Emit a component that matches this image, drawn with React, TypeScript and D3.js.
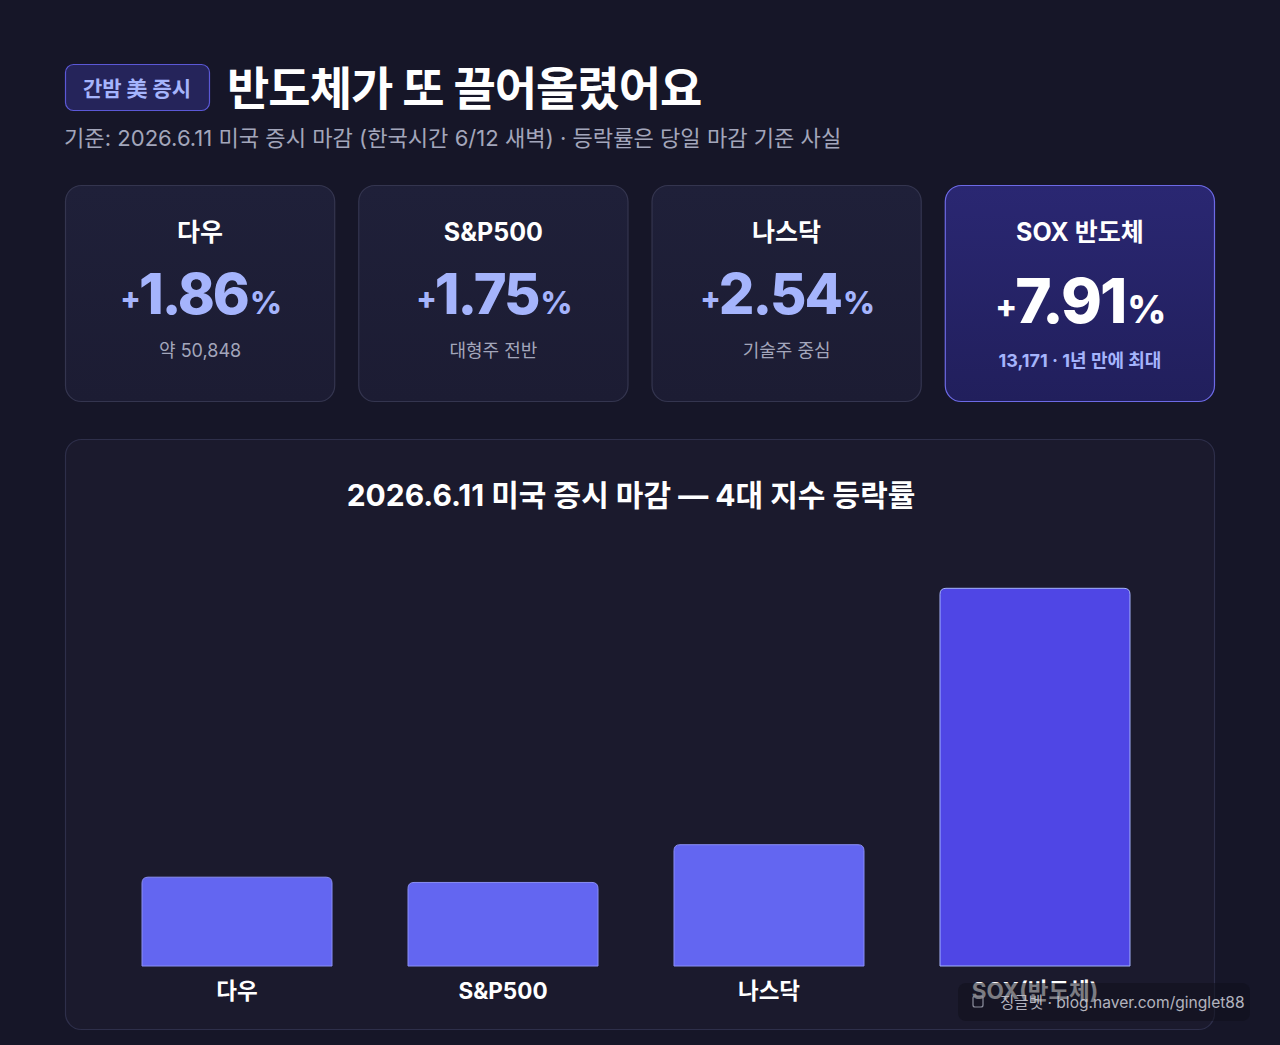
import React from "react";
import * as d3 from "d3";

const categories = ["다우", "S&P500", "나스닥", "SOX(반도체)"];
const changes = [1.86, 1.75, 2.54, 7.91];
const cardTitles = ["다우", "S&P500", "나스닥", "SOX 반도체"];
const cardValues = ["1.86", "1.75", "2.54", "7.91"];
const cardSubs = ["약 50,848", "대형주 전반", "기술주 중심", "13,171 · 1년 만에 최대"];
const yTicks = [0, 8];

const FONT = "Inter, 'Noto Sans CJK KR', 'Noto Sans', sans-serif";
const W = 1280;
const H = 1045;

export default function App() {
  const x = d3
    .scaleBand<string>()
    .domain(categories)
    .range([104, 1168])
    .paddingInner(0.2857)
    .paddingOuter(0.1429);
  const y = d3.scaleLinear().domain([yTicks[0], yTicks[1]]).range([966, 584]);
  const r = 6;

  const barPath = (c: string, v: number) => {
    const x0 = x(c)!;
    const w = x.bandwidth();
    const y0 = y(0);
    const y1 = y(v);
    const p = d3.path();
    p.moveTo(x0, y0);
    p.lineTo(x0, y1 + r);
    p.quadraticCurveTo(x0, y1, x0 + r, y1);
    p.lineTo(x0 + w - r, y1);
    p.quadraticCurveTo(x0 + w, y1, x0 + w, y1 + r);
    p.lineTo(x0 + w, y0);
    p.closePath();
    return p.toString();
  };

  const cardX = d3.scaleBand<number>().domain([0, 1, 2, 3]).range([65, 1215]).paddingInner(0.0786);

  return (
    <svg
      width={W}
      height={H}
      style={{ position: "absolute", left: 0, top: 0, display: "block" }}
      fontFamily={FONT}
    >
      <defs>
        <linearGradient id="soxCard" x1="0" y1="0" x2="0" y2="1">
          <stop offset="0%" stopColor="#2a2772" />
          <stop offset="100%" stopColor="#211f5c" />
        </linearGradient>
        <linearGradient id="card" x1="0" y1="0" x2="0" y2="1">
          <stop offset="0%" stopColor="#1f2039" />
          <stop offset="100%" stopColor="#1c1c33" />
        </linearGradient>
      </defs>
      <rect x={0} y={0} width={W} height={H} fill="#161628" />

      {/* header */}
      <rect x={65.5} y={64.5} width={144} height={46} rx={8} fill="#25245a" stroke="#5b58d6" strokeWidth={1.2} />
      <text x={137} y={96} textAnchor="middle" fill="#a5b4fc" fontSize={21} fontWeight={700}>
        간밤 美 증시
      </text>
      <text x={227} y={105} fill="#ffffff" fontSize={46} fontWeight={700} letterSpacing={-1}>
        반도체가 또 끌어올렸어요
      </text>
      <text x={64} y={146} fill="#a3a6bb" fontSize={22.1}>
        기준: 2026.6.11 미국 증시 마감 (한국시간 6/12 새벽) · 등락률은 당일 마감 기준 사실
      </text>

      {/* cards */}
      {cardTitles.map((t, i) => {
        const cx = cardX(i)!;
        const cw = cardX.bandwidth();
        const mid = cx + cw / 2;
        const sox = i === 3;
        return (
          <g key={t}>
            <rect
              x={cx + 0.5}
              y={185.5}
              width={cw - 1}
              height={216}
              rx={16}
              fill={sox ? "url(#soxCard)" : "url(#card)"}
              stroke={sox ? "#6d6ae6" : "#34354f"}
              strokeWidth={1.2}
            />
            <text x={mid} y={241} textAnchor="middle" fill="#ffffff" fontSize={25} fontWeight={700}>
              {t}
            </text>
            <text
              x={mid}
              y={sox ? 323 : 314}
              textAnchor="middle"
              fill={sox ? "#ffffff" : "#a5b4fc"}
              fontWeight={800}
              letterSpacing={-2}
            >
              <tspan fontSize={sox ? 32 : 30} dy={-5}>+</tspan>
              <tspan fontSize={sox ? 62 : 56} dy={5}>{cardValues[i]}</tspan>
              <tspan fontSize={sox ? 38 : 31} dx={2}>%</tspan>
            </text>
            <text
              x={mid}
              y={sox ? 367 : 357}
              textAnchor="middle"
              fill={sox ? "#a5b4fc" : "#a3a6bb"}
              fontSize={18}
              fontWeight={sox ? 700 : 400}
            >
              {cardSubs[i]}
            </text>
          </g>
        );
      })}

      {/* chart card */}
      <rect x={65.5} y={439.5} width={1149} height={590} rx={16} fill="#1b1a2d" stroke="#2e2f4a" strokeWidth={1.2} />
      <text x={631} y={506} textAnchor="middle" fill="#ffffff" fontSize={30} fontWeight={700}>
        2026.6.11 미국 증시 마감 — 4대 지수 등락률
      </text>

      {categories.map((c, i) => {
        const sox = i === 3;
        return (
          <g key={c}>
            <path
              d={barPath(c, changes[i])}
              fill={sox ? "#4f46e5" : "#6366f1"}
              stroke={sox ? "#a5b4fc" : "#8b8ff5"}
              strokeWidth={1}
            />
            <text
              x={x(c)! + x.bandwidth() / 2}
              y={999}
              textAnchor="middle"
              fill="#ffffff"
              fontSize={22.5}
              fontWeight={700}
            >
              {c}
            </text>
          </g>
        );
      })}

      {/* watermark */}
      <rect x={958} y={983} width={292} height={38} rx={8} fill="#10101c" opacity={0.55} />
      <rect x={973} y={996} width={10} height={11} rx={2} fill="none" stroke="#8d8f9e" strokeWidth={1.2} />
      <text x={1000} y={1008} fill="#c4c5cf" fontSize={15.6} opacity={0.9}>
        징글벳 · blog.naver.com/ginglet88
      </text>
    </svg>
  );
}
